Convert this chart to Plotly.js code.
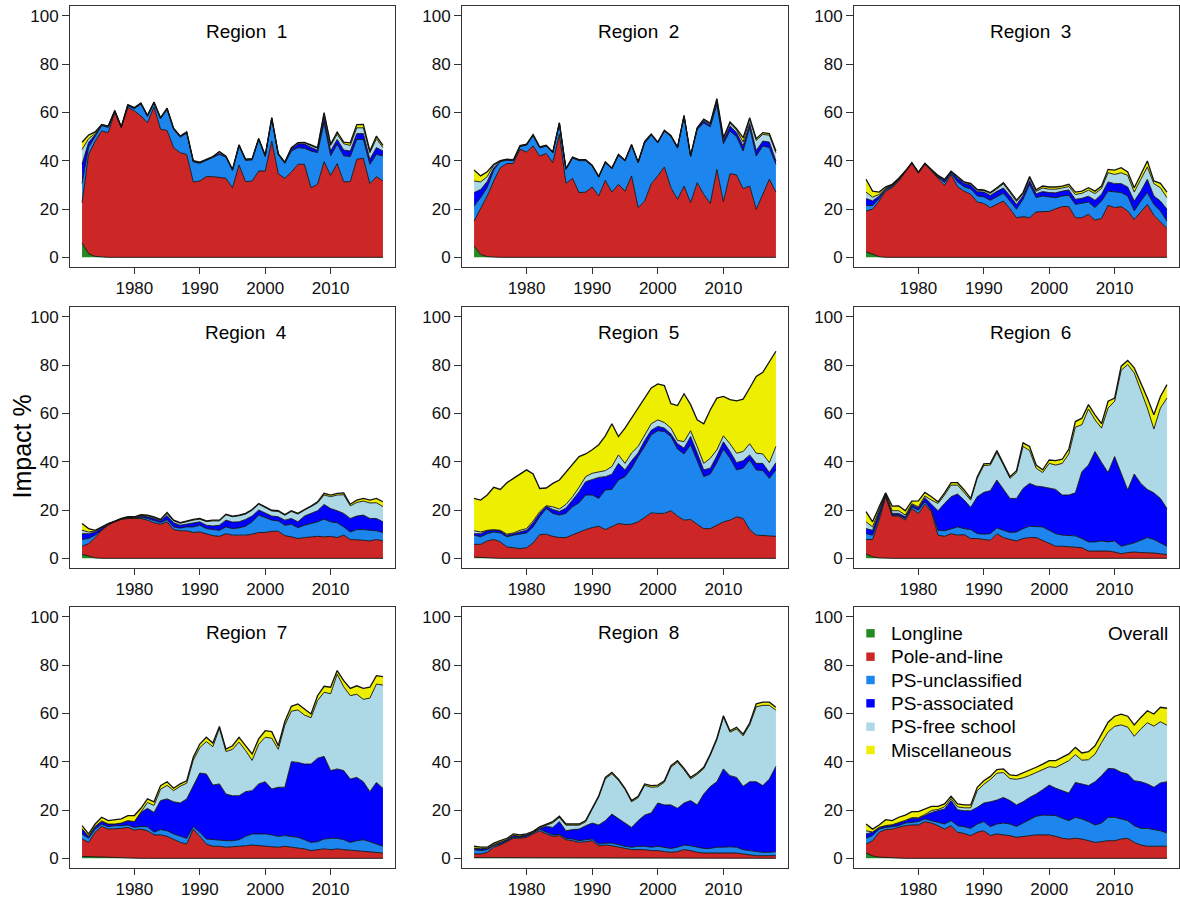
<!DOCTYPE html>
<html><head><meta charset="utf-8">
<script src="https://cdn.plot.ly/plotly-3.0.1.min.js"></script>
<style>html,body{margin:0;padding:0;background:#fff;} #chart{width:1180px;height:898px;}</style>
</head><body><div id="chart"></div>
<script>
const years = [1972,1973,1974,1975,1976,1977,1978,1979,1980,1981,1982,1983,1984,1985,1986,1987,1988,1989,1990,1991,1992,1993,1994,1995,1996,1997,1998,1999,2000,2001,2002,2003,2004,2005,2006,2007,2008,2009,2010,2011,2012,2013,2014,2015,2016,2017,2018];

const seriesNames = ['Longline','Pole-and-line','PS-unclassified','PS-associated','PS-free school','Miscellaneous'];
const seriesColors = ['#228B22','#CD2626','#1C86EE','#0000FF','#ADD8E6','#EEEE00'];
const panelTitles = ['Region  1','Region  2','Region  3','Region  4','Region  5','Region  6','Region  7','Region  8','Overall'];
const xTicks = [1980,1990,2000,2010];
const yTicks = [0,20,40,60,80,100];
const yLabel = 'Impact %';

// Region 1
const LL_1 = [6,1.5,0.4,0.1,0,0,0,0,0,0, 0,0,0,0,0,0,0,0,0,0, 0,0,0,0,0,0,0,0,0,0, 0,0,0,0,0,0,0,0,0,0, 0,0,0,0,0,0,0];
const PL_1 = [16.6,41.1,47.6,52.2,51.6,59.9,53.7,62,60.6,58.5, 55.7,62.3,53,52.5,45.4,43.3,42.6,31.2,31.6,33.4, 33.4,33,32.7,28.8,38.2,31.3,31.6,35.7,35.7,48.1, 34.6,32.7,35.3,38.5,38.5,28.8,30.2,39.6,33.9,38.8, 31.3,31.3,40.6,41,30.5,33.4,31.6];
const PSU_1 = [8,3,2,2.2,2.2,0.4,0.1,0.7,0.9,4.9, 2.6,1.5,4.3,8.7,7.5,6.4,8.8,8.3,7.3,6.7, 7.8,9.6,8.7,7.1,7.9,8.8,8.7,13,6,9.2, 7.8,6.2,8.7,6.9,6.6,15.2,13.1,16.1,8.1,8, 10.7,10.4,8.2,7.8,8,9.2,10.4];
const PSA_1 = [8,2,0.7,0.3,0.3,0.3,0.1,0.3,0.3,0.3, 0.3,0.3,0.3,0.3,0.3,0.3,0.3,0.3,0.3,0.3, 0.3,0.5,0.3,0.3,0.3,0.3,0.3,0.3,0.3,0.3, 0.3,0.3,0.7,1.5,1.8,1.5,1,2.5,2,2, 2.4,2.3,2.4,2.4,2.1,2.8,2];
const PSF_1 = [6,1.5,0.5,0.1,0.1,0.1,0.05,0.1,0.1,0.1, 0.1,0.1,0.1,0.1,0.1,0.1,0.1,0.1,0.1,0.1, 0.1,0.6,0.1,0.1,0.1,0.1,0.1,0.1,0.1,0.1, 0.1,0.1,0.5,0.4,0.5,0.7,0.8,1.2,2.3,2.1, 2.6,2.3,2.4,2.4,2.7,3.7,1.4];
const MISC_1 = [3,1.5,0.7,0.1,0.1,0.1,0.1,0.1,0.1,0.1, 0.1,0.1,0.1,0.1,0.1,0.1,0.1,0.1,0.1,0.1, 0.1,0.1,0.1,0.1,0.1,0.1,0.1,0.1,0.1,0.1, 0.1,0.1,0.2,0.2,0.2,0.3,0.3,0.5,0.5,1, 0.7,1.1,1.3,1.4,0.7,1.1,0.9];

// Region 2
const LL_2 = [4.7,1.2,0.3,0,0,0,0,0,0,0, 0,0,0,0,0,0,0,0,0,0, 0,0,0,0,0,0,0,0,0,0, 0,0,0,0,0,0,0,0,0,0, 0,0,0,0,0,0,0];
const PL_2 = [10.3,18.7,25.1,31.6,37.1,38.8,38.9,44.7,43.6,46.1, 41.9,43,39.2,50.9,30.6,32.7,26.8,27,29.1,25.4, 31.9,27,30.2,27.4,33.7,20.6,23.3,30.5,33.7,37.4, 28.8,24,29.5,22.6,30.9,26.1,22.3,36.4,23,34.6, 34.1,28.4,29.5,19.9,26.1,32.3,27];
const PSU_2 = [6.2,4.8,3.5,4.5,2.5,1.4,1.1,1.1,2.8,4.3, 3.4,3,4,4.4,5.7,8.4,13.2,13,8.6,7.7, 7.2,9.6,12,12.4,12.6,18.5,23.9,20.1,13.6,14.8, 21.2,21.2,28.8,19.1,22,29.5,31.7,26.9,24,17.7, 15.8,15.6,24.2,22,20,13.1,11.5];
const PSA_2 = [5.6,3.4,2.5,1,0.2,0.2,0.2,0.2,0.2,0.2, 0.2,0.2,0.2,0.2,0.2,0.2,0.2,0.2,0.2,0.2, 0.2,0.2,0.2,0.2,0.2,0.2,0.6,0.2,0.2,0.2, 0.2,0.2,0.2,0.2,0.5,0.8,0.8,1.2,1.2,2, 1.7,2.1,1.7,2.3,2,2.3,1.4];
const PSF_2 = [4.8,3.1,2,1,0.1,0.1,0.1,0.1,0.1,0.1, 0.1,0.1,0.1,0.1,0.1,0.1,0.1,0.1,0.1,0.1, 0.1,0.1,0.1,0.1,0.1,0.1,0.1,0.1,0.1,0.1, 0.1,0.1,0.1,0.1,0.1,0.5,0.5,0.8,0.9,1.2, 1,1.6,1.7,4.2,2.8,2.8,3.4];
const MISC_2 = [4.5,2.5,2,0.4,0.1,0.1,0.1,0.1,0.1,0.1, 0.1,0.1,0.1,0.1,0.1,0.1,0.1,0.1,0.1,0.1, 0.1,0.1,0.1,0.1,0.1,0.1,0.1,0.1,0.1,0.1, 0.1,0.1,0.1,0.1,0.1,0.3,0.3,0.4,0.4,0.5, 0.6,1.8,0.7,0.7,0.7,0.7,0.7];

// Region 3
const LL_3 = [2.3,1.2,0.3,0,0,0,0,0,0,0, 0,0,0,0,0,0,0,0,0,0, 0,0,0,0,0,0,0,0,0,0, 0,0,0,0,0,0,0,0,0,0, 0,0,0,0,0,0,0];
const PL_3 = [16.9,18.7,23,27.4,28.8,31.6,35.3,38.9,34.8,38.5, 35.7,32.6,29.8,34.3,29.2,27.4,26.1,22.9,22.3,20.6, 21.9,23.3,20.1,16.4,16.8,16.4,18.8,19,19,20.1, 21,21,16.4,16.4,17.8,15.4,16.1,21.5,20.6,21, 19.2,15.7,18.8,21.9,17.4,14.6,12];
const PSU_3 = [2.3,1.5,1,0.6,0.5,0.4,0.2,0.1,0.2,0.2, 0.3,0.6,1.2,0.6,2,1.8,2.2,2.5,2.7,3, 3.2,3.2,3.2,3.5,7.2,13.8,5.9,6.4,6,4.6, 4.4,4.7,5.5,5.9,5.1,5.2,7.2,5.9,6.4,5.8, 6.2,3.5,4.5,4.9,4.5,4.6,3];
const PSA_3 = [2.8,2,1,0.4,0.3,0.3,0.1,0.1,0.2,0.1, 0.2,0.4,0.8,0.5,1.5,1.4,1.6,1.8,2,2, 2.2,2.2,2.2,2,1.5,1.5,1.6,1.8,1.8,2, 2,2.2,2.1,2.1,2.4,3,2.8,3.8,3.5,3.7, 3.7,4.1,4.1,5.5,3.5,4.1,4.9];
const PSF_3 = [2.7,1.5,0.7,0.3,0.3,0.2,0.05,0.05,0.05,0.05, 0.1,0.2,0.3,0.2,0.4,0.4,0.5,0.6,0.6,0.8, 1,1.7,1.3,1.2,0.8,1.2,1,1.5,1.4,1.5, 1.3,1.4,2,2.1,2.5,2.8,2.4,3.8,3.8,4.5, 4.8,3.7,4.9,5.1,5.1,5.5,4.8];
const MISC_3 = [5.3,2.5,1,0.5,0.3,0.2,0.05,0.05,0.05,0.05, 0.1,0.1,0.2,0.1,0.3,0.2,0.2,0.3,0.3,0.4, 0.5,0.5,0.6,0.6,0.5,0.5,0.6,0.8,0.9,0.9, 0.8,0.9,1,0.9,1,1,1,1.4,1.8,2.1, 1.4,1.8,2,2.5,1.1,1.8,2.3];

// Region 4
const LL_4 = [1.7,0.8,0.2,0,0,0,0,0,0,0, 0,0,0,0,0,0,0,0,0,0, 0,0,0,0,0,0,0,0,0,0, 0,0,0,0,0,0,0,0,0,0, 0,0,0,0,0,0,0];
const PL_4 = [3.3,5.3,8.4,11.6,13.7,15.1,16.1,16.5,16.5,16.5, 15.8,14.7,14.1,15.1,11.9,11.4,11.4,10.7,10.9,10, 9.4,9.1,10.2,9.6,9.6,9.6,10,10.7,10.7,11.2, 11.2,9.4,8.9,8.2,8.6,8.9,9.1,8.9,9.1,8.6, 9.6,7.8,7.8,7.5,7.2,7.8,7.2];
const PSU_4 = [2.8,2.1,1,0.3,0.3,0.1,0.1,0.2,0.2,0.5, 0.7,0.8,0.7,0.9,1.1,1.1,1.6,2.3,2.8,2.3, 2.5,2.5,2.8,2.7,3,3.7,5.1,7.2,6.2,4.6, 4.3,4.3,5.2,4.5,5.1,5.5,6,7.3,6,6.1, 3.4,3.1,4.1,4.4,4.4,3.6,3.5];
const PSA_4 = [2.4,2,1.3,0.7,0.2,0.1,0.1,0.1,0.1,0.5, 0.7,1,0.8,1.7,1.7,1.2,1.1,1.7,1.4,1.4, 1.5,2.1,2.8,2.7,2.5,2.8,2.4,2.1,1.9,1.7, 1.7,2.1,2.4,2.4,3.8,4.2,4.6,6.1,5.5,5, 5.6,5.6,5.6,6,4.9,5.1,4.4];
const PSF_4 = [1.4,0.7,0.4,0.2,0.1,0.05,0.1,0.1,0.1,0.3, 0.4,0.4,0.3,0.8,0.8,0.8,1.1,1.1,1.1,1.5, 2.1,1.8,2.2,2.2,2.5,2.2,2.4,2.4,2.2,2.1, 2.2,2,2.9,3.2,2.4,2.7,3.2,3.9,4.9,6.5, 7.7,5.2,5.6,5.8,6.4,6.5,6.3];
const MISC_4 = [2.8,1.4,0.3,0.2,0.1,0.05,0.1,0.3,0.3,0.3, 0.3,0.3,0.2,0.5,0.3,0.3,0.3,0.3,0.3,0.3, 0.3,0.3,0.3,0.3,0.3,0.3,0.3,0.3,0.3,0.3, 0.3,0.3,0.3,0.3,0.3,0.3,0.5,0.7,0.7,0.7, 0.8,0.7,1,1.1,1.2,1.8,2];

// Region 5
const LL_5 = [0.5,0.3,0.2,0.1,0,0,0,0,0,0, 0,0,0,0,0,0,0,0,0,0, 0,0,0,0,0,0,0,0,0,0, 0,0,0,0,0,0,0,0,0,0, 0,0,0,0,0,0,0];
const PL_5 = [5.3,5.5,7,7.7,6.8,4.7,4.4,4,4.4,6.4, 9.8,10,9.1,8.6,8.6,9.8,10.9,11.9,12.7,13.3, 11.9,13,14.4,14,14.1,15.1,16.9,18.8,18.6,18.6, 19.7,17.5,15.8,16.1,14.1,12.3,12.3,13.7,15.1,15.8, 17.2,16.5,11.9,9.6,9.6,9.3,9.1];
const PSU_5 = [3.8,3.1,3,3.1,3.7,4.2,5.2,6.2,6.1,6.6, 7.4,10.6,9.5,9.3,10,11.5,12.1,14.3,13.5,11.5, 16.4,15.5,18,19.8,23.2,27,29.4,32.3,34.2,33.9, 30.7,27.7,27.4,30.9,26.6,21.5,22.6,25.9,30.1,25.6, 19.4,20.8,28.8,27,26.7,23.8,27.5];
const PSA_5 = [0.6,1.3,1.2,0.7,0.9,0.7,0.6,0.7,1.1,1.7, 1.4,1,1.6,1.5,2.2,2.8,4.6,5.5,6.5,8.7, 5.5,6.3,6.9,2.8,3.1,1.5,2.5,1.9,1.8,1.4, 1.1,2.2,2.4,3.4,2.9,2.8,2.4,2.8,3,2.8, 3,3.1,2.1,2.7,3,2.4,3];
const PSF_5 = [1.2,0.7,0.2,0.3,0.2,0.4,0.3,0.7,0.7,0.8, 0.7,0.2,1.1,1,1.5,1.4,1.8,2.1,2.5,2.4, 2.5,3.2,3.5,2.7,3.2,2.7,2.3,2.7,2.7,2.3, 2.4,1.4,2.7,2.4,2.7,2.7,4.1,2.5,2.5,3.2, 3.9,3.8,4.6,4.2,3.9,4.1,6.7];
const MISC_5 = [13.4,13.2,14.6,17.5,16.9,21.3,22.6,23.3,24.3,19.4, 9.6,7.3,9.7,12,13.2,13.1,12.7,9.4,9.7,11.1, 14.4,17.7,7.6,14.6,14.4,15.9,15.5,14.8,14.9,15.3, 10.1,14.4,19.8,10.8,11,16.4,20.1,21.4,16.3,18.3, 21.7,21.7,23.1,31.8,33.8,41.6,39.4];

// Region 6
const LL_6 = [1.8,0.6,0.2,0,0,0,0,0,0,0, 0,0,0,0,0,0,0,0,0,0, 0,0,0,0,0,0,0,0,0,0, 0,0,0,0,0,0,0,0,0,0, 0,0,0,0,0,0,0];
const PL_6 = [6,7.2,15.6,25.5,17.5,17.5,15.8,20.6,18.6,22.4, 19.3,9.6,9.1,10.2,9.6,9.8,8.2,8.2,7.8,7.5, 10.2,8.6,7.8,7.2,8.2,8.6,8.6,7.5,6.4,5, 5,4.7,4.7,4.4,3,3,3,3,2.6,1.9, 2.4,2.6,2.4,2.4,2.2,1.9,1.5];
const PSU_6 = [2.4,1.8,1.4,0.7,0.4,0.4,0.7,0.7,1.3,1, 0.6,2,2.3,2.1,3.4,2.5,3.7,2,2.2,2.7, 2.4,3,2.9,3.7,4.1,4.7,4.7,5.5,5.2,5.2, 4.6,4.9,4.6,3.8,3.8,3.8,4.2,3.8,4.6,3.1, 3.3,3.8,5.1,6.2,5.6,4.5,3.5];
const PSA_6 = [2.1,2,2.1,0.4,0.7,0.7,0.7,0.9,0.9,1.7, 2.5,8.1,11.3,13.2,13.6,11.8,9.2,15.3,17.3,17.8, 19.8,16.9,14.1,13.9,16.6,17.7,16.6,16.6,17.3,18.3, 16.6,16.6,17.8,27.7,31.8,37.4,32.5,28.7,34.9,30.2, 22.6,28.5,23.5,19.9,19.3,18.4,15.6];
const PSF_6 = [2.8,1.4,0.9,0.3,1.1,1.1,0.7,0.4,0.5,0.7, 1.7,3,3.5,4.8,3.7,3,3,7.6,11.1,10.6, 11.4,10.1,8.3,10.7,17.4,13.6,7.4,5.9,10.4,10.1, 13.1,17,27.2,19.4,23.2,13.1,14.2,26.7,22.9,42.6, 51.9,41.8,38.8,33.7,26.4,37.4,45.7];
const MISC_6 = [4.2,2.1,1.1,0.2,1.9,2,1.8,1.1,2.5,1.5, 1.4,0.7,0.9,1,1,1.2,0.7,0.7,0.7,0.7, 0.8,0.7,0.7,0.8,1.5,1.7,1.3,1.1,1.4,1.8, 1.7,2,2.3,2.7,1.8,2.1,1.8,2.8,1.3,1.7, 1.7,2.1,2.8,4.1,5.9,4.8,5.6];

// Region 7
const LL_7 = [0.8,0.7,0.6,0.3,0.3,0.2,0.1,0,0,0, 0,0,0,0,0,0,0,0,0,0, 0,0,0,0,0,0,0,0,0,0, 0,0,0,0,0,0,0,0,0,0, 0,0,0,0,0,0,0];
const PL_7 = [7.2,5.9,10.2,12.9,11.8,11.9,12.3,12.8,11.7,12.1, 11.4,9.7,9.7,9.1,8,6.6,5.9,12.1,9.1,5.9, 5,5,4.6,4.7,5,5.2,5.5,5.2,4.8,4.8, 4.6,5,4.6,4.3,3.9,3.2,3.4,3.9,3.6,3.9, 3.6,3.4,3.2,2.9,2.8,2.5,2.2];
const PSU_7 = [2.1,1.7,1.3,0.9,1,1.4,1.1,1,1.1,1.1, 1.7,1.1,2.2,2.3,2.1,2.5,2.4,1,1.7,2.1, 2.7,2.7,2.7,2.6,2.7,3.9,4.6,4.9,5.3,4.9, 4.5,4.4,4.5,4.4,3.8,3.4,3.5,4.1,4.7,4.4, 4.1,3.2,4.1,4.8,4.1,3.4,2.8];
const PSA_7 = [2,0.8,1.1,1.1,1.1,0.7,1.1,1.8,2.4,5.8, 7.6,8.2,12,13.2,13.3,13.8,16.3,17,24.5,26.9, 22.6,23.1,19.3,18.6,18.2,18.5,17.9,20.7,21.6,19, 20.3,20,30.9,31,31.3,32.4,34.5,34.2,28,28.7, 28.6,26.2,26.2,24,20.7,25.5,24];
const PSF_7 = [0.2,0,0,0.3,0,0,0,0,0,0.2, 2.4,2.9,4.7,5.6,4.6,6.9,6.5,10.5,10.5,13.4, 15.9,23,17.6,19.2,22.2,17,12.5,16.4,18.4,21, 15.7,25.7,20.9,21.7,20.3,19.2,23.9,26.5,31.8,39.2, 34.7,34.5,34.4,34.1,38.7,40.7,42.7];
const MISC_7 = [1.2,1,1,1.5,1.4,1.8,1.7,2.1,2.5,1.5, 1.5,1.5,1.5,1.5,1,1,1,1.2,1.5,1.8, 1.5,0.8,1,1.5,2,2,2.7,2.2,2.7,2.7, 1.5,1.5,2,2.5,2.5,1.5,2,2.5,2.7,1.5, 2.5,3,3.5,4.5,4.5,3.5,3.5];

// Region 8
const LL_8 = [0.3,0.3,0.3,0.3,0.3,0.3,0,0,0,0, 0,0,0,0,0,0,0,0,0,0, 0,0,0,0,0,0,0,0,0,0, 0,0,0,0,0,0,0,0,0,0, 0,0,0,0,0,0,0];
const PL_8 = [1.5,1.5,2.2,4.3,5.2,6.6,8.3,8.3,8.7,10.1, 11.4,10.1,9.1,9.4,7.7,7.3,6.6,6.9,7.3,5.2, 5.5,5.2,4.6,3.9,3.6,3.6,3.6,3.2,3.2,2.8, 2.5,2.8,3.6,3.2,2.5,2.2,2.2,2.2,2.5,2.5, 2.2,1.8,1.4,1.1,1.1,1.1,1.1];
const PSU_8 = [1.8,1.4,1.1,0.6,0.4,0.4,0.4,0.4,0.4,0.4, 0.7,0.7,0.6,0.5,0.6,0.7,0.7,0.8,0.7,0.7, 0.8,1.1,0.9,1.1,1,1.4,1.4,1.4,1.8,1.8, 1.6,1.8,1.9,2,2.1,1.9,1.9,2.4,2.1,2.3, 2.4,1.8,1.8,1.7,1.4,1.4,1.7];
const PSA_8 = [0.5,0.7,0.5,0.3,0.7,0.4,0.7,0.4,0.6,0.3, 0.3,2.4,3.1,5.3,3.1,3.9,4.8,5.8,6.6,7.9, 9.3,12,10.8,9.6,8.2,10.6,12.9,14.2,17.9,17.5, 18,16.1,17.4,18.7,17.5,22.5,25.6,27.1,32.4,29.4, 28.9,26.2,28.5,28.9,27.6,30.3,35.3];
const PSF_8 = [0.1,0.1,0.1,0.2,0.1,0.1,0.1,0.1,0.1,0.1, 0.2,0.5,1.9,1.7,2.3,1.8,1.6,1.6,5.6,11.6, 17.3,16.7,16,13.9,10.6,9.5,12.3,10.6,6.7,9.4, 15.6,19.1,13.7,9,12.6,10.5,12.9,17.4,21.4,18, 20,20.9,23.5,31,33.2,30.5,23.2];
const MISC_8 = [0.8,0.6,0.4,0.6,0.6,0.5,0.6,0.5,0.3,0.3, 0.4,0.5,0.5,0.5,0.5,0.5,0.5,0.5,0.5,0.5, 0.6,0.6,0.5,0.5,0.5,0.6,0.6,0.7,0.7,0.6, 0.6,0.6,0.6,0.6,0.6,0.6,0.6,0.6,0.6,0.6, 0.7,0.7,0.8,1.2,1.3,1.3,1.2];

// Overall
const LL_O = [2.2,1,0.5,0.3,0.2,0.1,0,0,0,0, 0,0,0,0,0,0,0,0,0,0, 0,0,0,0,0,0,0,0,0,0, 0,0,0,0,0,0,0,0,0,0, 0,0,0,0,0,0,0];
const PL_O = [3.7,6.3,10.3,11.6,11.9,12.7,13.5,13.8,13.8,15.2, 14.6,13.5,12.1,13.5,10.8,10.3,9.4,10.8,11.4,9.4, 10.1,9.7,9.4,8.7,9.1,9.4,9.7,9.7,9.7,9.1, 8.3,8,8.3,8,7.3,6.6,6.9,7.3,7.3,8, 8.3,6.6,5.5,5,5,5,5];
const PSU_O = [2.4,2.1,1.3,0.9,1,0.7,1.1,1.1,1.4,1.1, 1,1.7,2.1,2.1,2.7,2.8,3,3.4,3.8,3.7, 4.1,4.9,4.8,4.5,5.5,6.9,7.7,8.2,8.2,8.6, 8.3,7.6,8.7,8.3,7.9,7.2,7.7,9.7,9.7,8.3, 7.3,6.9,6.9,7.4,6.9,6.4,5.5];
const PSA_O = [1.8,1.4,0.7,0.7,0.7,1.1,1,1.7,1.4,1.4, 3.4,4.5,6.2,8.3,6.6,6.6,7.3,6.9,7.7,10.3, 9.9,10.6,9.7,8.9,8.8,8.9,9.2,10.5,12.4,11.3, 11.4,11.4,14.4,14.5,14.9,17.9,19.6,20.2,20,19.3, 19.3,18.6,19.3,18.4,17.5,19.8,21.2];
const PSF_O = [1.3,0.1,0,0.1,0.1,0.1,0.1,0.2,0.2,0.4, 0.8,0.5,0.9,0.8,1.2,1.2,1.2,6.9,7.7,9.2, 11.1,10.3,9.1,10.6,9.9,9.1,8.9,8.1,7.6,8.6, 11,13.4,11.5,9.8,10.7,11.4,13.7,15.1,17.6,19.6, 19.4,18.4,21.8,25.3,25.3,25.3,23.4];
const MISC_O = [2.8,1.2,1,2.4,1.7,2.3,2.2,2.5,2.5,2.3, 1.7,1.3,1.2,1,1.2,1.2,1.2,1.4,1.5,1.3, 1.5,1.5,1.5,1.5,2,2,2.2,2.5,2.5,2.8, 2.8,2.8,3,3,3.3,3.5,3.5,4,4.2,4.5, 4.5,4.7,4.8,5,5,6,7];

const panelData = [
  [LL_1,PL_1,PSU_1,PSA_1,PSF_1,MISC_1],
  [LL_2,PL_2,PSU_2,PSA_2,PSF_2,MISC_2],
  [LL_3,PL_3,PSU_3,PSA_3,PSF_3,MISC_3],
  [LL_4,PL_4,PSU_4,PSA_4,PSF_4,MISC_4],
  [LL_5,PL_5,PSU_5,PSA_5,PSF_5,MISC_5],
  [LL_6,PL_6,PSU_6,PSA_6,PSF_6,MISC_6],
  [LL_7,PL_7,PSU_7,PSA_7,PSF_7,MISC_7],
  [LL_8,PL_8,PSU_8,PSA_8,PSF_8,MISC_8],
  [LL_O,PL_O,PSU_O,PSA_O,PSF_O,MISC_O]
];

const W = 1180, H = 898;
const FONT = 'Liberation Sans, Arial, Helvetica, sans-serif';
const colPx = [[70,395],[462,788],[854,1179]];
const rowPx = [[6,267],[307,568],[607,868]];
const px2x = p => p / W;
const px2y = p => 1 - p / H;

const traces = [];
const layout = {
  width: W, height: H,
  margin: {l:0, r:0, t:0, b:0},
  paper_bgcolor: '#ffffff', plot_bgcolor: '#ffffff',
  showlegend: false,
  font: {family: FONT, color: '#000', size: 17},
  annotations: [], shapes: []
};

panelData.forEach((series, i) => {
  const r = Math.floor(i / 3), c = i % 3;
  const sfx = i === 0 ? '' : String(i + 1);
  const xa = 'x' + sfx, ya = 'y' + sfx;
  layout['xaxis' + sfx] = {
    domain: [px2x(colPx[c][0]), px2x(colPx[c][1])],
    anchor: ya, range: [1970.16, 2019.84],
    tickmode: 'array', tickvals: xTicks, ticktext: xTicks.map(String),
    ticks: 'outside', ticklen: 6, tickwidth: 1, tickcolor: '#333',
    showline: true, mirror: true, linecolor: '#333', linewidth: 1,
    showgrid: false, zeroline: false,
    tickfont: {family: FONT, size: 17, color: '#111'}, fixedrange: true
  };
  layout['yaxis' + sfx] = {
    domain: [px2y(rowPx[r][1]), px2y(rowPx[r][0])],
    anchor: xa, range: [-4, 104],
    tickmode: 'array', tickvals: yTicks, ticktext: yTicks.map(String),
    ticks: 'outside', ticklen: 7, tickwidth: 1, tickcolor: '#333',
    showline: true, mirror: true, linecolor: '#333', linewidth: 1,
    showgrid: false, zeroline: false,
    tickfont: {family: FONT, size: 17, color: '#111'}, fixedrange: true
  };
  series.forEach((vals, s) => {
    traces.push({
      type: 'scatter', mode: 'lines', x: years, y: vals,
      xaxis: xa, yaxis: ya, stackgroup: 'g' + i,
      line: {color: '#111', width: s === 5 ? 1.3 : 0.9, shape: 'linear'},
      fillcolor: seriesColors[s], name: seriesNames[s],
      hoverinfo: 'skip', showlegend: false
    });
  });
  const cx = (colPx[c][0] + colPx[c][1]) / 2;
  if (i < 8) {
    layout.annotations.push({
      xref: 'paper', yref: 'paper', x: px2x(cx + 13.5), y: px2y(rowPx[r][0] + 25.7),
      xanchor: 'center', yanchor: 'middle', showarrow: false,
      text: panelTitles[i].replace(/ /g, '\u00a0'),
      font: {family: FONT, size: 19, color: '#000'}
    });
  } else {
    layout.annotations.push({
      xref: 'paper', yref: 'paper', x: px2x(1170), y: px2y(633.3),
      xanchor: 'right', yanchor: 'middle', showarrow: false,
      text: panelTitles[i], font: {family: FONT, size: 19, color: '#000'}
    });
    const legY = [633.3, 656.7, 680, 703.3, 726.7, 750];
    seriesNames.forEach((nm, k) => {
      layout.annotations.push({
        xref: 'paper', yref: 'paper', x: px2x(888.5), y: px2y(legY[k]),
        xanchor: 'left', yanchor: 'middle', showarrow: false,
        text: nm, font: {family: FONT, size: 19, color: '#000'}
      });
      layout.shapes.push({
        type: 'rect', xref: 'paper', yref: 'paper',
        x0: px2x(866.3), x1: px2x(874.7), y0: px2y(legY[k] + 4.2), y1: px2y(legY[k] - 4.2),
        fillcolor: seriesColors[k], line: {width: 0}
      });
    });
  }
});

layout.annotations.push({
  xref: 'paper', yref: 'paper', x: px2x(21.5), y: px2y(447),
  xanchor: 'center', yanchor: 'middle', showarrow: false, textangle: -90,
  text: yLabel, font: {family: FONT, size: 25, color: '#000'}
});

Plotly.newPlot('chart', traces, layout, {displayModeBar: false, staticPlot: true});
</script>
</body></html>
